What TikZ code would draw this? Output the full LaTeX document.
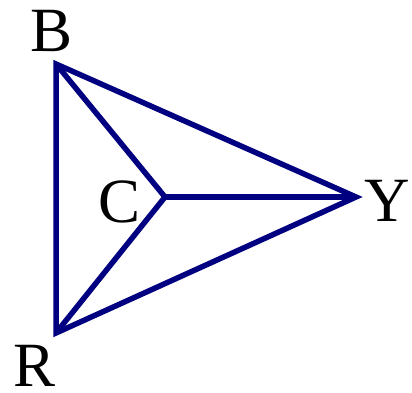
\documentclass[tikz,border=0pt]{standalone}
\usepackage{fontspec}
\setmainfont{Liberation Serif}
\definecolor{navy}{RGB}{0,0,128}
\begin{document}
\begin{tikzpicture}[x=1pt,y=1pt,
  edge/.style={draw=navy,line width=5.5pt},
  lab/.style={font=\fontsize{63}{65}\selectfont,inner sep=0pt,anchor=base}]
\useasboundingbox (0,0) rectangle (412,393);
\coordinate (B) at (56,329);
\coordinate (R) at (56,60);
\coordinate (Y) at (356,196);
\coordinate (C) at (165,196);
\draw[edge] (B) -- (Y) -- (R) -- cycle;
\draw[edge] (B) -- (C) -- (R);
\draw[edge] (C) -- (Y);
\node[lab] (lB) at (51.5,341) {B};
\node[lab] (lR) at (35,6.5) {R};
\node[lab] (lC) at (120,170) {C};
\node[lab] (lY) at (387.5,171) {Y};
\end{tikzpicture}
\end{document}
